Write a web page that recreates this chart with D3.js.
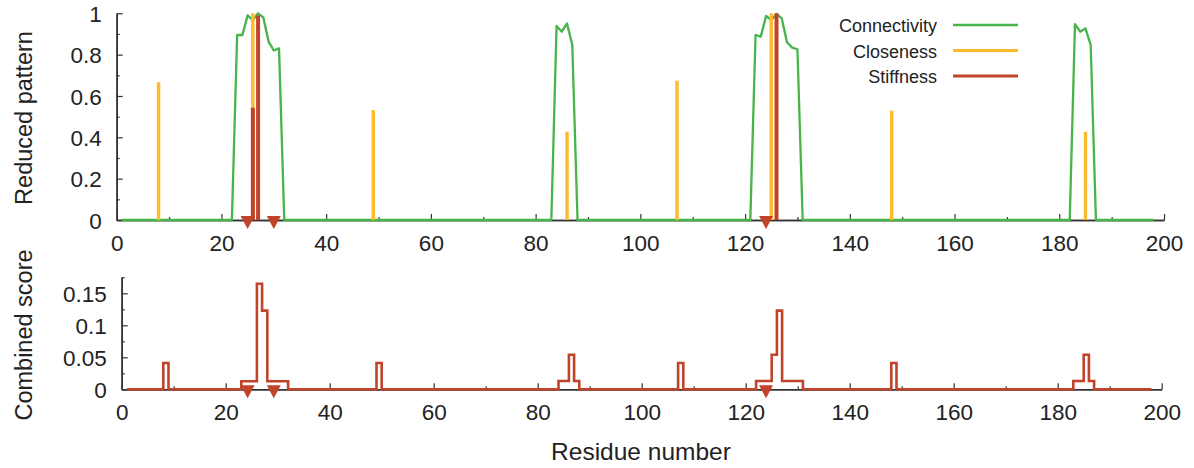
<!DOCTYPE html>
<html>
<head>
<meta charset="utf-8">
<script src="https://cdn.jsdelivr.net/npm/d3@7"></script>
<style>
  body { margin: 0; background: #fff; }
  svg { display: block; font-family: "Liberation Sans", Arial, Helvetica, sans-serif; }
</style>
</head>
<body>
<svg id="chart"></svg>
<script>
// connectivity (green line), breakpoints only
const connRes = [1, 22, 23, 24, 25, 26, 27, 28, 29, 30, 31, 32,
  83, 84, 85, 86, 87, 88,
  121, 122, 123, 124, 125, 126, 127, 128, 129, 130, 131,
  182, 183, 184, 185, 186, 187, 198]
const connVal = [0, 0, 0.895, 0.895, 0.99, 0.967, 1.0, 0.98, 0.863, 0.82, 0.83, 0,
  0, 0.939, 0.911, 0.951, 0.847, 0,
  0, 0.895, 0.887, 0.987, 0.968, 0.997, 0.976, 0.86, 0.834, 0.826, 0,
  0, 0.948, 0.911, 0.927, 0.847, 0, 0]

// closeness impulses
const closeRes = [8, 26, 49, 86, 107, 125, 148, 185]
const closeVal = [0.666, 1.0, 0.532, 0.427, 0.674, 1.0, 0.529, 0.427]

// stiffness impulses
const stiffRes = [26, 27, 126]
const stiffVal = [0.543, 0.99, 1.0]

// marked residues (triangles)
const markRes = [25, 30, 124]

// combined score, step breakpoints
const combRes = [1, 8, 9, 23, 26, 27, 28, 32, 49, 50,
  84, 86, 87, 88, 107, 108,
  122, 125, 126, 127, 131, 148, 149,
  183, 185, 186, 187, 198]
const combVal = [0, 0.041, 0, 0.0125, 0.165, 0.123, 0.0125, 0, 0.041, 0,
  0.013, 0.054, 0.013, 0, 0.041, 0,
  0.013, 0.054, 0.123, 0.013, 0, 0.041, 0,
  0.013, 0.054, 0.013, 0, 0]

const xMajor = [0, 20, 40, 60, 80, 100, 120, 140, 160, 180, 200]
const xMinor = [10, 30, 50, 70, 90, 110, 130, 150, 170, 190]
const topMajor = [0, 0.2, 0.4, 0.6, 0.8, 1]
const topMinor = [0.1, 0.3, 0.5, 0.7, 0.9]
const botMajor = [0, 0.05, 0.1, 0.15]
const botMinor = [0.025, 0.075, 0.125, 0.175]

const legendNames = ['Connectivity', 'Closeness', 'Stiffness']

const green = '#45b54a'
const yellow = '#fdba2c'
const red = '#c0432a'
const axisColor = '#333'
const textColor = '#222'

const w = 1194
const h = 468

const svg = d3.select('#chart')
  .attr('width', w)
  .attr('height', h)

svg.append('rect').attr('width', w).attr('height', h).attr('fill', '#fff')

// scales for the two panels
const xTop = d3.scaleLinear().domain([0, 200]).range([116.7, 1164])
const yTop = d3.scaleLinear().domain([0, 1]).range([220, 13.3])
const xBot = d3.scaleLinear().domain([0, 200]).range([121.7, 1161.7])
const yBot = d3.scaleLinear().domain([0, 0.175]).range([389.3, 277.3])

function drawAxes(xs, ys, yMajor, yMinor) {
  const y0 = ys(0)
  const x0 = xs.range()[0]

  // minor ticks
  svg.append('g')
    .attr('transform', `translate(0, ${y0})`)
    .call(d3.axisBottom(xs).tickValues(xMinor).tickSize(-3).tickSizeOuter(0).tickFormat(''))
  svg.append('g')
    .attr('transform', `translate(${x0}, 0)`)
    .call(d3.axisLeft(ys).tickValues(yMinor).tickSize(-3).tickSizeOuter(0).tickFormat(''))

  // major ticks + labels
  const gx = svg.append('g')
    .attr('transform', `translate(0, ${y0})`)
    .call(d3.axisBottom(xs).tickValues(xMajor).tickSize(-6).tickSizeOuter(0).tickPadding(15).tickFormat(d3.format('d')))
  const gy = svg.append('g')
    .attr('transform', `translate(${x0}, 0)`)
    .call(d3.axisLeft(ys).tickValues(yMajor).tickSize(-6).tickSizeOuter(0).tickPadding(15).tickFormat(d3.format('')))

  svg.selectAll('.domain').attr('stroke', axisColor).attr('stroke-width', 1.6)
  svg.selectAll('.tick line').attr('stroke', axisColor).attr('stroke-width', 1.2)
  gx.selectAll('text').attr('font-size', 22.5).attr('fill', textColor).attr('font-family', null)
  gy.selectAll('text').attr('font-size', 22.5).attr('fill', textColor).attr('font-family', null)
    .attr('dy', '0.36em')
}

drawAxes(xTop, yTop, topMajor, topMinor)
drawAxes(xBot, yBot, botMajor, botMinor)

// ---- top panel ----
const conn = connRes.map((r, i) => ({ r, v: connVal[i] }))
svg.append('path')
  .datum(conn)
  .attr('fill', 'none')
  .attr('stroke', green)
  .attr('stroke-width', 2.3)
  .attr('stroke-linejoin', 'round')
  .attr('d', d3.line().x(d => xTop(d.r)).y(d => yTop(d.v)))

svg.append('g').selectAll('rect')
  .data(closeRes.map((r, i) => ({ r, v: closeVal[i] })))
  .join('rect')
  .attr('x', d => xTop(d.r) - 1.7)
  .attr('width', 3.4)
  .attr('y', d => yTop(d.v))
  .attr('height', d => yTop(0) - yTop(d.v))
  .attr('fill', yellow)

svg.append('g').selectAll('rect')
  .data(stiffRes.map((r, i) => ({ r, v: stiffVal[i] })))
  .join('rect')
  .attr('x', d => xTop(d.r) - 2)
  .attr('width', 4)
  .attr('y', d => yTop(d.v))
  .attr('height', d => yTop(0) - yTop(d.v))
  .attr('fill', red)

// ---- bottom panel ----
const comb = combRes.map((r, i) => ({ r, v: combVal[i] }))
svg.append('path')
  .datum(comb)
  .attr('fill', 'none')
  .attr('stroke', red)
  .attr('stroke-width', 2.6)
  .attr('d', d3.line().x(d => xBot(d.r)).y(d => yBot(d.v)).curve(d3.curveStepAfter))

// triangle markers on both baselines
const tri = 'M-7,-4L7,-4L0,9Z'
svg.append('g').selectAll('path')
  .data(markRes)
  .join('path')
  .attr('d', tri)
  .attr('transform', d => `translate(${xTop(d)}, ${yTop(0)})`)
  .attr('fill', red)
svg.append('g').selectAll('path')
  .data(markRes)
  .join('path')
  .attr('d', tri)
  .attr('transform', d => `translate(${xTop(d)}, ${yBot(0)})`)
  .attr('fill', red)

// legend
const legendColors = [green, yellow, red]
const lg = svg.append('g')
legendNames.forEach((name, i) => {
  const y = 25 + i * 25.5
  lg.append('text')
    .attr('x', 937)
    .attr('y', y + 7)
    .attr('text-anchor', 'end')
    .attr('font-size', 18)
    .attr('fill', textColor)
    .text(name)
  lg.append('line')
    .attr('x1', 953).attr('x2', 1018)
    .attr('y1', y).attr('y2', y)
    .attr('stroke', legendColors[i])
    .attr('stroke-width', i === 0 ? 2.4 : 3.2)
})

// axis titles
svg.append('text')
  .attr('transform', 'translate(32, 118) rotate(-90)')
  .attr('text-anchor', 'middle')
  .attr('font-size', 23.5)
  .attr('fill', textColor)
  .text('Reduced pattern')

svg.append('text')
  .attr('transform', 'translate(32, 335) rotate(-90)')
  .attr('text-anchor', 'middle')
  .attr('font-size', 23.5)
  .attr('fill', textColor)
  .text('Combined score')

svg.append('text')
  .attr('x', 641)
  .attr('y', 460)
  .attr('text-anchor', 'middle')
  .attr('font-size', 24.5)
  .attr('fill', textColor)
  .text('Residue number')
</script>
</body>
</html>
